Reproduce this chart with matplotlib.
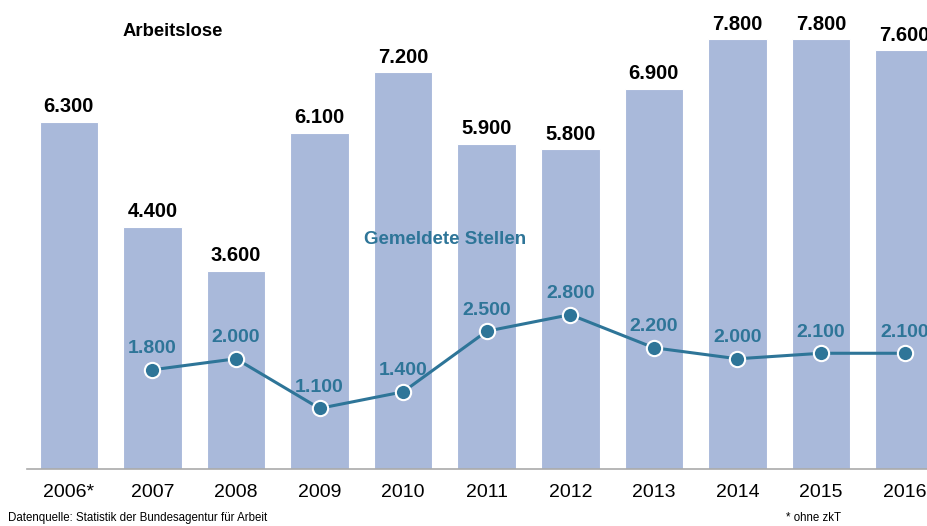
import matplotlib.pyplot as plt

# Daten
jahre = ["2006*", "2007", "2008", "2009", "2010", "2011", "2012", "2013", "2014", "2015", "2016"]
arbeitslose = [6300, 4400, 3600, 6100, 7200, 5900, 5800, 6900, 7800, 7800, 7600]
stellen_jahre = ["2007", "2008", "2009", "2010", "2011", "2012", "2013", "2014", "2015", "2016"]
stellen = [1800, 2000, 1100, 1400, 2500, 2800, 2200, 2000, 2100, 2100]

BAR_COLOR = "#A9B9DA"
LINE_COLOR = "#2E7598"

def fmt(v):
    return f"{v:,}".replace(",", ".")

plt.rcParams["font.family"] = ["Liberation Sans", "DejaVu Sans"]

fig = plt.figure(figsize=(9.28, 5.26), dpi=100)
ax = fig.add_axes([27 / 928, 57 / 526, 1 - 27 / 928, 469 / 526])

x = list(range(len(jahre)))
ax.bar(x, arbeitslose, width=0.7, color=BAR_COLOR, edgecolor="white", linewidth=0.8, zorder=1)
for xi, v in zip(x, arbeitslose):
    ax.annotate(fmt(v), (xi, v), xytext=(0, 4), textcoords="offset points",
                ha="center", va="bottom", fontsize=14.5, fontweight="bold", color="black")

sx = [jahre.index(j) for j in stellen_jahre]
ax.plot(sx, stellen, color=LINE_COLOR, linewidth=2.2, marker="o", markersize=11,
        markerfacecolor=LINE_COLOR, markeredgecolor="white", markeredgewidth=1.5, zorder=3)
for xi, v in zip(sx, stellen):
    ax.annotate(fmt(v), (xi, v), xytext=(0, 9), textcoords="offset points",
                ha="center", va="bottom", fontsize=14, fontweight="bold", color=LINE_COLOR)

ax.text(1.24, 7930, "Arbeitslose", ha="center", va="center", fontsize=13.3, fontweight="bold")
ax.text(4.5, 4170, "Gemeldete Stellen", ha="center", va="center", fontsize=13.5,
        fontweight="bold", color=LINE_COLOR)

ax.set_xlim(-0.5, 10.28)
ax.set_ylim(0, 8510)
ax.set_xticks(x)
ax.set_xticklabels(jahre, fontsize=14)
ax.tick_params(axis="x", length=0, pad=11)
ax.set_yticks([])
for s in ["top", "right", "left"]:
    ax.spines[s].set_visible(False)
ax.spines["bottom"].set_color("#AAAAAA")
ax.spines["bottom"].set_linewidth(1.2)

fig.text(8 / 928, 8 / 526, "Datenquelle: Statistik der Bundesagentur für Arbeit",
         fontsize=8.3, ha="left", va="center")
fig.text(814 / 928, 8 / 526, "* ohne zkT", fontsize=8.3, ha="center", va="center")

fig.savefig("out.png", dpi=100)
